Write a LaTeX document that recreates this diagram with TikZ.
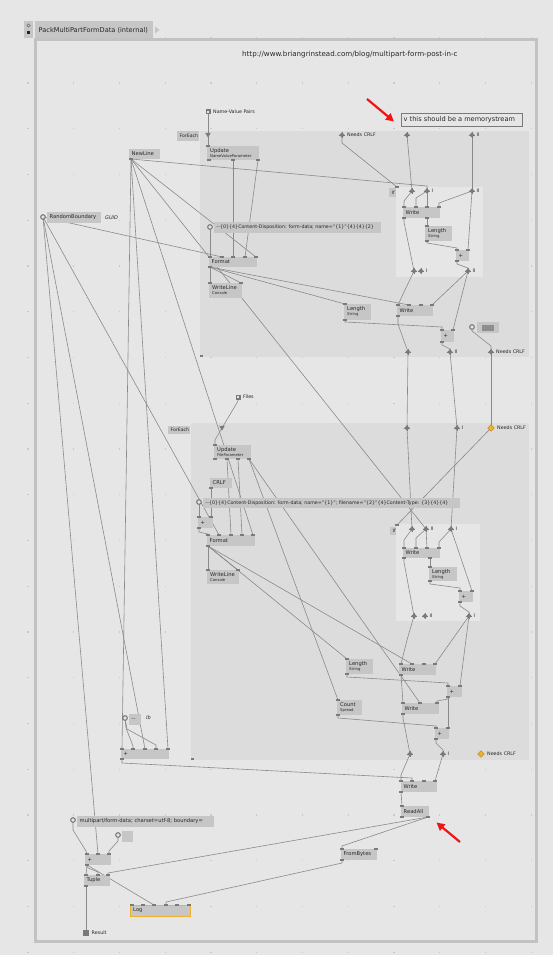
\documentclass[tikz,border=0pt]{standalone}
\usepackage{fontspec}
\setmainfont{DejaVu Sans}
\usetikzlibrary{arrows.meta,fit,calc}
\pgfdeclarelayer{bgl}
\pgfdeclarelayer{wires}
\pgfdeclarelayer{front}
\pgfsetlayers{bgl,wires,main,front}
\definecolor{bgc}{HTML}{E6E6E6}
\definecolor{regc}{HTML}{DCDCDC}
\definecolor{ifc}{HTML}{E6E6E6}
\definecolor{framec}{HTML}{C2C2C2}
\definecolor{boxc}{HTML}{C6C6C6}
\definecolor{textc}{HTML}{262626}
\definecolor{wirec}{HTML}{8A8A8A}
\definecolor{pinc}{HTML}{7A7A7A}
\definecolor{dotc}{HTML}{CACACA}
\definecolor{orangec}{HTML}{F0B030}
\definecolor{orangedk}{HTML}{C88A10}
\definecolor{redc}{HTML}{F01515}
\definecolor{ringf}{HTML}{E4E4E4}
\tikzset{
  vbox/.style={rectangle, fill=boxc, draw=none, inner sep=0pt, outer sep=0pt},
  lbl/.style={font=\fontsize{5.2}{6}\selectfont, text=textc, inner sep=0pt, anchor=west},
  sublbl/.style={font=\fontsize{3.8}{4}\selectfont, text=textc, inner sep=0pt},
  pinlbl/.style={font=\fontsize{4.8}{5}\selectfont, text=textc, inner sep=0pt, anchor=west},
  wire/.style={draw=wirec, line width=0.6pt},
  redarrow/.style={draw=redc, line width=2.2pt, -{Triangle[length=8pt,width=8pt]}},
}
\newcommand{\mkbox}[6]{\node[vbox, fit={(#2,#3) (#4,#5)}] (#1) {};
  \node[lbl] (#1-t) at ($(#1.west)+(2.5,0)$) {#6};}
\newcommand{\mkboxx}[7]{\node[vbox, fit={(#2,#3) (#4,#5)}] (#1) {};
  \node[lbl, anchor=base west] (#1-t) at ($(#1.north west)+(3,6)$) {#6};
  \node[sublbl, anchor=base west] (#1-s) at ($(#1.north west)+(3,11.5)$) {#7};}
\newcommand{\vpin}[3]{\coordinate (#1) at (#2,#3);
  \begin{pgfonlayer}{front}\fill[pinc] ([shift={(-1.6,-1.1)}]#1) rectangle ([shift={(1.6,1.1)}]#1);\end{pgfonlayer}}
\newcommand{\dpin}[3]{\coordinate (#1) at (#2,#3);
  \begin{pgfonlayer}{front}\fill[pinc] ([shift={(0,-2.6)}]#1) -- ([shift={(2.6,0)}]#1) -- ([shift={(0,2.6)}]#1) -- ([shift={(-2.6,0)}]#1) -- cycle;
  \draw[pinc, line width=0.6pt] ([shift={(-3.4,0)}]#1) -- ([shift={(3.4,0)}]#1) ([shift={(0,-3.4)}]#1) -- ([shift={(0,3.4)}]#1);\end{pgfonlayer}}
\newcommand{\opin}[3]{\coordinate (#1) at (#2,#3);
  \begin{pgfonlayer}{front}\filldraw[fill=orangec, draw=orangedk, line width=0.5pt] ([shift={(0,-3.2)}]#1) -- ([shift={(3.2,0)}]#1) -- ([shift={(0,3.2)}]#1) -- ([shift={(-3.2,0)}]#1) -- cycle;\end{pgfonlayer}}
\newcommand{\cpin}[3]{\coordinate (#1) at (#2,#3);
  \begin{pgfonlayer}{front}\filldraw[fill=ringf, draw=pinc, line width=1.1pt] (#1) circle[radius=2.3];\end{pgfonlayer}}
\newcommand{\sqpin}[3]{\coordinate (#1) at (#2,#3);
  \begin{pgfonlayer}{front}\fill[pinc] ([shift={(-2.5,-2.5)}]#1) rectangle ([shift={(2.5,2.5)}]#1);
  \fill[ringf] ([shift={(-1,-1)}]#1) rectangle ([shift={(1,1)}]#1);\end{pgfonlayer}}
\newcommand{\tripin}[3]{\coordinate (#1) at (#2,#3);
  \begin{pgfonlayer}{front}\fill[pinc] ([shift={(-2.8,-2.2)}]#1) -- ([shift={(2.8,-2.2)}]#1) -- ([shift={(0,2.6)}]#1) -- cycle;\end{pgfonlayer}}
\begin{document}
\begin{tikzpicture}[x=1pt,y=-1pt]
\begin{pgfonlayer}{bgl}
\fill[bgc] (0,0) rectangle (553,955);
\foreach \i in {0,...,11}{\foreach \j in {0,...,20}{\fill[dotc] ({28+45.75*\i-0.6},{37.3+45.75*\j-0.6}) rectangle ++(1.2,1.2);}}
\fill[regc] (200,131) rectangle (529,357);
\fill[regc] (191,423) rectangle (529,760);
\fill[ifc] (396,187) rectangle (483,277);
\fill[ifc] (396,524) rectangle (480,621);
\fill[pinc] (200,355) rectangle (203,357);
\fill[pinc] (191,758) rectangle (194,760);
\draw[framec, line width=3pt] (35,39.5) rectangle (536,941);
\end{pgfonlayer}
\useasboundingbox (0,0) rectangle (553,955);

% title
\node[vbox, fit={(24,21) (33,38)}] (tbx) {};
\draw[pinc, line width=0.6pt] (28.5,25.5) circle[radius=1.6];
\fill[textc] (27,31.5) rectangle (30,34.5);
\node[vbox, fit={(35,21) (153,38)}] (title) {};
\node[lbl, font=\fontsize{6.6}{7}\selectfont] (title-t) at (38.5,30) {PackMultiPartFormData (internal)};
\fill[boxc] (155,26.5) -- (159.5,30) -- (155,33.5) -- cycle;

% comments
\node[lbl, font=\fontsize{7.1}{8}\selectfont] (url) at (242,54.5) {http://www.briangrinstead.com/blog/multipart-form-post-in-c};
\node[fit={(401,113) (522,126)}, draw=pinc, line width=0.8pt, fill=bgc, inner sep=0pt] (cmt) {};
\node[lbl, font=\fontsize{6.6}{7}\selectfont] (cmt-t) at (403.5,119.5) {v this should be a memorystream};
\coordinate (ra1s) at (367,99);
\coordinate (ra1e) at (394,121.5);
\draw[redarrow] (ra1s) -- (ra1e);
\coordinate (ra2s) at (460,842);
\coordinate (ra2e) at (436.5,822.5);
\draw[redarrow] (ra2s) -- (ra2e);

% ---------- first ForEach ----------
\mkbox{fe1l}{177}{131}{199}{141}{\fontsize{4.6}{5}\selectfont ForEach}
\mkboxx{upd1}{207}{146}{259}{160}{Update}{NameValueParameter}
\mkbox{nl}{129}{149}{160}{159}{NewLine}
\mkbox{rb}{47}{212}{101}{223}{RandomBoundary}
\node[pinlbl, font=\fontsize{5}{6}\itshape] (guid) at (105,217.5) {GUID};
\mkbox{s1}{214}{222}{381}{233}{\fontsize{4.75}{5}\selectfont -{}-\{0\}\{4\}Content-Disposition: form-data; name="\{1\}"\{4\}\{4\}\{2\}}
\mkbox{f1}{209}{257}{257}{267}{Format}
\mkboxx{wl1}{209}{283}{242}{298}{WriteLine}{Console}
\mkbox{if1l}{389}{188}{396}{197}{\fontsize{4.6}{5}\selectfont If}
\mkbox{wr1}{403}{207}{440}{218}{Write}
\mkboxx{len1}{425}{226}{452}{241}{Length}{String}
\mkbox{pl1}{456}{250}{469}{261}{+}
\mkbox{wr2}{397}{305}{433}{316}{Write}
\mkboxx{len2}{344}{304}{371}{320}{Length}{String}
\mkbox{pl2}{441}{330}{454}{342}{+}
\node[vbox, fit={(477,322) (499,333)}] (io1) {};
\node[fill=pinc!85, fit={(482,324.5) (494,330.5)}, inner sep=0pt] (io1d) {};

\sqpin{nvp}{208}{112}
\node[pinlbl] (nvp-l) at (213,112) {Name-Value Pairs};
\tripin{tri1}{208}{135}
\vpin{u1i}{208}{146}
\vpin{u1a}{209}{160}\vpin{u1b}{233}{160}\vpin{u1c}{258}{160}
\vpin{nlo}{131}{159}
\cpin{rbo}{43}{217}
\cpin{s1c}{210}{227}
\vpin{f1a}{210}{257}\vpin{f1b}{222}{257}\vpin{f1c}{233}{257}\vpin{f1d}{245}{257}\vpin{f1e}{256}{257}
\vpin{f1o}{210}{267}
\vpin{w1a}{210}{283}\vpin{w1b}{241}{283}
\dpin{n1}{342}{135}\dpin{t1}{407}{135}\dpin{t2}{472}{135}
\node[pinlbl] (n1-l) at (347,134.5) {Needs CRLF};
\node[pinlbl] (t2-l) at (476.5,134.5) {II};
\vpin{if1p}{397}{187}
\dpin{A}{412}{191}\dpin{B}{427}{191}\dpin{C}{472}{191}
\node[pinlbl] (B-l) at (431.5,190.5) {I};
\node[pinlbl] (C-l) at (476.5,190.5) {II};
\vpin{wr1a}{404}{207}\vpin{wr1b}{416}{207}\vpin{wr1c}{427}{207}\vpin{wr1d}{439}{207}
\vpin{wr1o}{404}{218}\vpin{wr1p}{427}{218}
\vpin{l1i}{427}{226}\vpin{l1o}{427}{241}
\vpin{p1a}{457}{250}\vpin{p1b}{468}{250}\vpin{p1o}{457}{261}
\dpin{D}{414}{271}\dpin{E}{421}{271}\dpin{F}{468}{271}
\node[pinlbl] (E-l) at (426,270.5) {I};
\node[pinlbl] (F-l) at (472.5,270.5) {II};
\vpin{wr2a}{398}{305}\vpin{wr2b}{409}{305}\vpin{wr2c}{421}{305}\vpin{wr2d}{432}{305}
\vpin{wr2o}{398}{316}
\vpin{l2i}{345}{304}\vpin{l2o}{345}{320}
\vpin{p2a}{442}{330}\vpin{p2b}{453}{330}\vpin{p2o}{442}{342}
\cpin{ioc}{472}{327}
\dpin{G}{408}{352}\dpin{H}{450}{352}\dpin{I1}{491}{352}
\node[pinlbl] (H-l) at (454.5,351.5) {II};
\node[pinlbl] (I1-l) at (496,351.5) {Needs CRLF};

% ---------- second ForEach ----------
\mkbox{fe2l}{168}{426}{190}{434}{\fontsize{4.6}{5}\selectfont ForEach}
\mkboxx{upd2}{214}{445}{251}{459}{Update}{FileParameter}
\mkbox{crlf}{210}{478}{232}{488}{CRLF}
\mkbox{s2}{203}{498}{460}{508}{\fontsize{4.75}{5}\selectfont -{}-\{0\}\{4\}Content-Disposition: form-data; name="\{1\}"; filename="\{2\}"\{4\}Content-Type: \{3\}\{4\}\{4\}}
\mkbox{psm}{198}{517}{213}{528}{+}
\mkbox{f2}{207}{535}{255}{546}{Format}
\mkboxx{wl2}{207}{570}{239}{584}{WriteLine}{Console}
\mkbox{if2l}{390}{527}{396}{535}{\fontsize{4.6}{5}\selectfont If}
\mkbox{wr5}{403}{548}{440}{558}{Write}
\mkboxx{len5}{429}{567}{457}{581}{Length}{String}
\mkbox{pl5}{459}{591}{473}{602}{+}
\mkbox{wr3}{399}{664}{436}{675}{Write}
\mkboxx{len3}{346}{659}{373}{674}{Length}{String}
\mkbox{pl3}{447}{686}{462}{697}{+}
\mkbox{wr4}{402}{703}{439}{714}{Write}
\mkboxx{cnt}{337}{700}{362}{715}{Count}{Spread}
\mkbox{pl4}{435}{728}{449}{739}{+}

\sqpin{files}{238}{397}
\node[pinlbl] (files-l) at (243,397) {Files};
\tripin{tri2}{222}{428}
\vpin{u2i}{215}{445}
\vpin{u2a}{215}{459}\vpin{u2b}{227}{459}\vpin{u2c}{238}{459}\vpin{u2d}{249}{459}
\vpin{cro}{211}{488}
\cpin{s2c}{199}{502}
\vpin{psa}{199}{517}\vpin{psb}{211}{517}\vpin{pso}{199}{528}
\vpin{f2a}{208}{535}\vpin{f2b}{219}{535}\vpin{f2c}{231}{535}\vpin{f2d}{242}{535}\vpin{f2e}{253}{535}
\vpin{f2o}{208}{546}
\vpin{w2a}{208}{570}\vpin{w2b}{238}{570}
\dpin{P1}{407}{428}\dpin{P2}{457}{428}\opin{P3}{491}{428}
\node[pinlbl] (P2-l) at (461.5,427.5) {I};
\node[pinlbl] (P3-l) at (497,427.5) {Needs CRLF};
\vpin{if2p}{397}{525}
\dpin{A2}{412}{529}\dpin{B2}{426}{529}\dpin{C2}{451}{529}
\node[pinlbl] (B2-l) at (430.5,528.5) {II};
\node[pinlbl] (C2-l) at (455.5,528.5) {I};
\vpin{wr5a}{404}{548}\vpin{wr5b}{416}{548}\vpin{wr5c}{427}{548}\vpin{wr5d}{439}{548}
\vpin{wr5o}{404}{558}\vpin{wr5p}{430}{558}
\vpin{l5i}{430}{567}\vpin{l5o}{430}{581}
\vpin{p5a}{460}{591}\vpin{p5b}{472}{591}\vpin{p5o}{460}{602}
\dpin{D2}{414}{616}\dpin{E2}{425}{616}\dpin{F2}{469}{616}
\node[pinlbl] (E2-l) at (429.5,615.5) {II};
\node[pinlbl] (F2-l) at (473.5,615.5) {I};
\vpin{wr3a}{401}{664}\vpin{wr3b}{412}{664}\vpin{wr3c}{424}{664}\vpin{wr3d}{435}{664}
\vpin{wr3o}{401}{675}
\vpin{l3i}{347}{659}\vpin{l3o}{347}{674}
\vpin{p3a}{448}{686}\vpin{p3b}{460}{686}\vpin{p3o}{448}{697}
\vpin{wr4a}{403}{703}\vpin{wr4b}{420}{703}\vpin{wr4c}{437}{703}
\vpin{wr4o}{403}{714}
\vpin{ci}{338}{700}\vpin{co}{338}{715}
\vpin{p4a}{436}{728}\vpin{p4b}{448}{728}\vpin{p4o}{436}{739}
\dpin{G2}{410}{754}\dpin{H2}{443}{754}\opin{O2}{481}{754}
\node[pinlbl] (H2-l) at (447.5,753.5) {I};
\node[pinlbl] (O2-l) at (487,753.5) {Needs CRLF};

% ---------- bottom ----------
\mkbox{dd}{129}{714}{141}{725}{-{}-}
\node[pinlbl, font=\fontsize{5}{6}\itshape] (dd-l) at (146,718) {lb};
\mkbox{bp}{121}{749}{169}{759}{+}
\mkbox{wr6}{401}{781}{437}{792}{Write}
\mkbox{ra}{401}{806}{429}{817}{ReadAll}
\mkbox{fb}{341}{849}{377}{860}{FromBytes}
\mkbox{mp}{77}{816}{214}{827}{multipart/form-data; charset=utf-8; boundary=}
\mkbox{si}{122}{831}{133}{842}{}
\mkbox{fp}{85}{854}{111}{865}{+}
\mkbox{tp}{84}{875}{110}{886}{Tuple}
\node[vbox, draw=orangec, line width=0.9pt, fit={(130,905) (190,916)}] (log) {};
\node[lbl] (log-t) at ($(log.west)+(3,0)$) {Log};

\cpin{ddc}{125}{718}
\vpin{bp1}{122}{749}\vpin{bp2}{133}{749}\vpin{bp3}{145}{749}\vpin{bp4}{156}{749}\vpin{bp5}{168}{749}
\vpin{bpo}{122}{759}
\vpin{wr6a}{401}{781}\vpin{wr6b}{412}{781}\vpin{wr6c}{424}{781}\vpin{wr6d}{435}{781}
\vpin{wr6o}{401}{792}
\vpin{rai}{402}{806}\vpin{rao}{402}{817}\vpin{rar}{428}{817}
\vpin{fbi}{342}{849}\vpin{fbj}{376}{849}\vpin{fbo}{342}{860}
\cpin{mpc}{73}{820}
\cpin{sic}{118}{835}
\vpin{fp1}{87}{854}\vpin{fp2}{98}{854}\vpin{fp3}{109}{854}\vpin{fpo}{87}{865}
\vpin{tp1}{86}{875}\vpin{tp2}{98}{875}\vpin{tp3}{108}{875}\vpin{tpo}{86}{886}
\vpin{lg1}{132}{905}\vpin{lg2}{143}{905}\vpin{lg3}{154}{905}\vpin{lg4}{166}{905}\vpin{lg5}{177}{905}\vpin{lg6}{189}{905}
\coordinate (res) at (86,933);
\begin{pgfonlayer}{front}\fill[pinc] ([shift={(-2.6,-2.6)}]res) rectangle ([shift={(2.6,2.6)}]res);\end{pgfonlayer}
\node[pinlbl] (res-l) at (91.5,933) {Result};

% ---------- wires ----------
\begin{pgfonlayer}{wires}
\draw[wire] (nvp) -- (tri1);
\draw[wire] (tri1) -- (u1i);
\draw[wire] (s1c) -- (f1a);
\draw[wire] (rbo) -- (f1b);
\draw[wire] (u1b) -- (f1c);
\draw[wire] (u1c) -- (f1d);
\draw[wire] (nlo) -- (f1e);
\draw[wire] (f1o) -- (w1a);
\draw[wire] (f1o) -- (w1b);
\draw[wire] (f1o) -- (l2i);
\draw[wire] (f1o) -- (wr2b);
\draw[wire] (nlo) -- ($(B)+(0,-5)$) -- (B);
\draw[wire] (n1) -- ++(0,8) -- (if1p);
\draw[wire] (t1) -- (A);
\draw[wire] (t2) -- (C);
\draw[wire] (A) -- ++(-8,10) -- (wr1a);
\draw[wire] (B) -- ++(-11,7) -- (wr1b);
\draw[wire] (B) -- (wr1c);
\draw[wire] (C) -- ++(-33,12) -- (wr1d);
\draw[wire] (wr1p) -- (l1i);
\draw[wire] (l1o) -- ++(0,2) -- ++(30,5) -- (p1a);
\draw[wire] (C) -- (p1b);
\draw[wire] (wr1o) -- ++(0,4) -- (D);
\draw[wire] (p1o) -- ++(0,3) -- ++(11,4) -- (F);
\draw[wire] (D) -- ++(-10,21) -- (wr2a);
\draw[wire] (F) -- (wr2d);
\draw[wire] (F) -- (p2b);
\draw[wire] (l2o) -- ++(0,2) -- ++(97,5) -- (p2a);
\draw[wire] (wr2o) -- ++(0,8) -- (G);
\draw[wire] (p2o) -- ++(0,3) -- ++(8,4) -- (H);
\draw[wire] (ioc) -- ++(0,4) -- ++(19,15) -- (I1);
\draw[wire] (G) -- (P1);
\draw[wire] (H) -- (P2);
\draw[wire] (I1) -- (P3);
% second
\draw[wire] (files) -- ++(0,4) -- (tri2);
\draw[wire] (tri2) -- ++(-7,12) -- (u2i);
\draw[wire] (s2c) -- (psa);
\draw[wire] (cro) -- (psb);
\draw[wire] (pso) -- ++(0,4) -- ++(9,2) -- (f2a);
\draw[wire] (rbo) -- (f2b);
\draw[wire] (u2b) -- (f2c);
\draw[wire] (u2c) -- (f2d);
\draw[wire] (nlo) -- (f2e);
\draw[wire] (f2o) -- (w2a);
\draw[wire] (f2o) -- (w2b);
\draw[wire] (f2o) -- (l3i);
\draw[wire] (f2o) -- (wr3b);
\draw[wire] (u2d) -- (ci);
\draw[wire] (u2d) -- (wr4b);
\draw[wire] (P1) -- (A2);
\draw[wire] (P2) -- (C2);
\draw[wire] (P3) -- (if2p);
\draw[wire] (nlo) -- (B2);
\draw[wire] (A2) -- ++(-8,11) -- (wr5a);
\draw[wire] (B2) -- ++(-10,9) -- (wr5b);
\draw[wire] (B2) -- (wr5c);
\draw[wire] (C2) -- ++(-12,13) -- (wr5d);
\draw[wire] (wr5p) -- (l5i);
\draw[wire] (l5o) -- ++(0,3) -- ++(30,4) -- (p5a);
\draw[wire] (C2) -- (p5b);
\draw[wire] (wr5o) -- ++(0,4) -- (D2);
\draw[wire] (p5o) -- ++(0,4) -- ++(9,6) -- (F2);
\draw[wire] (D2) -- ++(-7,24) -- (wr3a);
\draw[wire] (F2) -- (wr3d);
\draw[wire] (F2) -- (p3b);
\draw[wire] (l3o) -- ++(0,3) -- ++(101,6) -- (p3a);
\draw[wire] (wr3o) -- (wr4a);
\draw[wire] (p3o) -- ++(0,2) -- ++(-11,2) -- (wr4c);
\draw[wire] (co) -- ++(0,3) -- ++(98,8) -- (p4a);
\draw[wire] (p3o) -- (p4b);
\draw[wire] (wr4o) -- ++(0,4) -- (G2);
\draw[wire] (p4o) -- ++(0,4) -- ++(7,7) -- (H2);
% bottom
\draw[wire] (G2) -- ++(-9,21) -- (wr6a);
\draw[wire] (H2) -- (wr6d);
\draw[wire] (bpo) -- ++(0,4) -- ++(290,15) -- (wr6b);
\draw[wire] (wr6o) -- (rai);
\draw[wire] (rar) -- ++(-86,29) -- (fbi);
\draw[wire] (rar) -- ++(-320,56) -- (tp3);
\draw[wire] (fbo) -- ++(0,3) -- ++(-176,39) -- (lg4);
\draw[wire] (ddc) -- ++(1,10) -- ++(7,18) -- (bp2);
\draw[wire] (ddc) -- ++(2,11) -- ++(29,16) -- (bp4);
\draw[wire] (nlo) -- (bp1);
\draw[wire] (rbo) -- (bp3);
\draw[wire] (nlo) -- (bp5);
\draw[wire] (mpc) -- ++(0,10) -- ++(13,21) -- (fp1);
\draw[wire] (rbo) -- (fp2);
\draw[wire] (sic) -- ++(0,6) -- ++(-9,10) -- (fp3);
\draw[wire] (fpo) -- (tp1);
\draw[wire] (fpo) -- ++(1,3) -- ++(10,4) -- (tp2);
\draw[wire] (fpo) -- (lg3);
\draw[wire] (tpo) -- (res);
\end{pgfonlayer}
\end{tikzpicture}
\end{document}
